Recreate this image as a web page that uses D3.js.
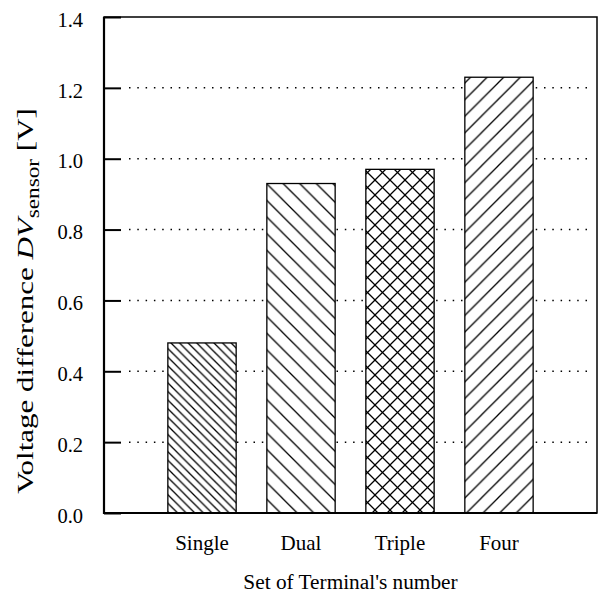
<!DOCTYPE html>
<html>
<head>
<meta charset="utf-8">
<script src="https://cdn.jsdelivr.net/npm/d3@7"></script>
<style>
  body { margin: 0; background: #fff; }
  svg text { font-family: "Liberation Serif", "Times New Roman", serif; fill: #000; }
</style>
</head>
<body>
<script>
// data
const categories = ["Single", "Dual", "Triple", "Four"];
const values = [0.48, 0.93, 0.97, 1.23];
const patterns = ["dense-back", "back", "cross", "fwd"];
const yTicks = [0, 0.2, 0.4, 0.6, 0.8, 1.0, 1.2, 1.4];
const gridTicks = [0.2, 0.4, 0.6, 0.8, 1.0, 1.2];

const w = 599;
const h = 594;
const margin = {top: 17, right: 2, bottom: 81, left: 104};
const serif = "'Liberation Serif', 'Times New Roman', serif";

let svg = d3.select("body")
    .append("svg")
    .attr("width", w)
    .attr("height", h)
    .attr("font-family", serif);

let x = d3.scalePoint()
    .domain(categories)
    .range([margin.left, w - margin.right])
    .padding(0.99);

let y = d3.scaleLinear()
    .domain([0, 1.4])
    .range([h - margin.bottom, margin.top]);

const barW = x.step() * 0.69;
const tickLen = 17;

// hatch patterns
let defs = svg.append("defs");
function hatch(id, spacing, angles) {
    let p = defs.append("pattern")
        .attr("id", id)
        .attr("patternUnits", "userSpaceOnUse")
        .attr("width", spacing)
        .attr("height", spacing);
    p.append("rect").attr("width", spacing).attr("height", spacing).attr("fill", "#fff");
    angles.forEach(a => {
        // diagonal across the tile
        let d = a === "back"
            ? `M0,0L${spacing},${spacing}M${-spacing},0L${spacing},${2*spacing}M0,${-spacing}L${2*spacing},${spacing}`
            : `M0,${spacing}L${spacing},0M${-spacing},${spacing}L${spacing},${-spacing}M0,${2*spacing}L${2*spacing},0`;
        p.append("path").attr("d", d)
            .attr("stroke", "#000").attr("stroke-width", 1.3);
    });
}
hatch("dense-back", 8.6, ["back"]);
hatch("back", 16.6, ["back"]);
hatch("cross", 15, ["back", "fwd"]);
hatch("fwd", 16.6, ["fwd"]);

// dotted grid
svg.append("g")
    .selectAll("line")
    .data(gridTicks)
    .join("line")
    .attr("x1", margin.left + tickLen + 8)
    .attr("x2", w - margin.right - 5)
    .attr("y1", d => y(d))
    .attr("y2", d => y(d))
    .attr("stroke", "#000")
    .attr("stroke-width", 1.5)
    .attr("stroke-dasharray", "1.5,6.8");

// bars
svg.append("g")
    .selectAll("rect")
    .data(values)
    .join("rect")
    .attr("x", (d, i) => x(categories[i]) - barW / 2)
    .attr("y", d => y(d))
    .attr("width", barW)
    .attr("height", d => y(0) - y(d))
    .attr("fill", (d, i) => `url(#${patterns[i]})`)
    .attr("stroke", "#000")
    .attr("stroke-width", 1.3);

// y axis, ticks pointing in
let yAxis = g => g
    .attr("transform", `translate(${margin.left},0)`)
    .call(d3.axisLeft(y)
        .tickValues(yTicks)
        .tickFormat(d3.format(".1f"))
        .tickSizeInner(-tickLen)
        .tickSizeOuter(0)
        .tickPadding(21))
    .attr("font-family", serif)
    .attr("font-size", 20.5)
    .call(g => g.select(".domain").remove())
    .call(g => g.selectAll(".tick line").attr("stroke-width", 2))
    .call(g => g.selectAll(".tick text").attr("dy", "0.45em"));
svg.append("g").call(yAxis);

// frame
svg.append("rect")
    .attr("x", margin.left)
    .attr("y", margin.top)
    .attr("width", w - margin.right - margin.left)
    .attr("height", h - margin.bottom - margin.top)
    .attr("fill", "none")
    .attr("stroke", "#000")
    .attr("stroke-width", 1.5);
svg.append("path")
    .attr("d", `M${margin.left},${margin.top}V${h - margin.bottom}H${w - margin.right}`)
    .attr("fill", "none")
    .attr("stroke", "#000")
    .attr("stroke-width", 2.2);

// category labels
svg.append("g")
    .selectAll("text")
    .data(categories)
    .join("text")
    .attr("x", d => x(d))
    .attr("y", 550)
    .attr("text-anchor", "middle")
    .attr("font-size", 21)
    .text(d => d);

// axis titles
svg.append("text")
    .attr("x", (margin.left + w - margin.right) / 2)
    .attr("y", 589)
    .attr("text-anchor", "middle")
    .attr("font-size", 21.3)
    .text("Set of Terminal's number");

let yl = svg.append("text")
    .attr("transform", "translate(33,301) rotate(-90) scale(1.29,1)")
    .attr("text-anchor", "middle")
    .attr("font-size", 24);
yl.append("tspan").text("Voltage difference ");
yl.append("tspan").attr("font-style", "italic").text("DV");
yl.append("tspan").attr("font-size", 18).attr("dy", "0.35em").text("sensor");
yl.append("tspan").attr("dy", "-0.27em").text(" [V]");
</script>
</body>
</html>
